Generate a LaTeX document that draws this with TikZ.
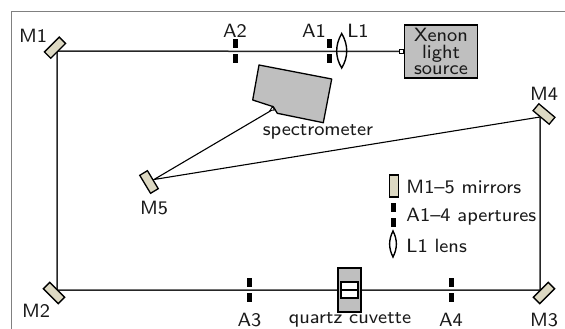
\documentclass[tikz,border=0pt]{standalone}
\renewcommand{\familydefault}{\sfdefault}
\definecolor{mirrorc}{HTML}{DDD9C3}
\definecolor{boxc}{HTML}{BFBFBF}
\tikzset{
  x=1pt,y=-1pt,
  beam/.style={line width=1.5pt,draw=black!85},
  mirror/.style={draw=black,fill=mirrorc,line width=1.3pt,minimum width=21pt,minimum height=9pt,inner sep=0pt,outer sep=0pt},
  grayc/.style={draw=black,fill=boxc,line width=1.3pt},
  bar/.style={fill=black,draw=none,minimum width=5pt,minimum height=9.5pt,inner sep=0pt},
  lbl/.style={font=\fontsize{8}{9}\selectfont,scale=2.4,inner sep=0pt,text=black!90},
}
\newcommand{\aperture}[3]{%
  \node[bar] (#1u) at (#2,#3-7.5) {};
  \node[bar] (#1d) at (#2,#3+7.5) {};}
\begin{document}
\begin{tikzpicture}
\useasboundingbox (0,0) rectangle (565,329);
\draw[line width=0.7pt,black!50] (11.5,329)--(11.5,11.5)--(565,11.5);
% points
\coordinate (c1) at (57,51);
\coordinate (c2) at (57,290);
\coordinate (c3) at (540,290);
\coordinate (c4) at (540,117);
\coordinate (c5) at (154,179.5);
\coordinate (cs) at (272,110);
% source
\node[grayc,minimum width=73pt,minimum height=53pt,inner sep=0pt] (src) at (441,51.5) {};
\node[lbl,align=center,font=\fontsize{8}{6.9}\selectfont] at (src.center) {Xenon\\light\\source};
\node[draw=black,fill=white,line width=0.9pt,minimum size=4pt,inner sep=0pt,anchor=east] (port) at (src.west) {};
% beams
\draw[beam] (port.west) -- (c1) -- (c2) -- (c3) -- (c4);
\draw[line width=1.1pt] (c4) -- (c5) -- (cs);
% spectrometer
\draw[grayc,line join=round] (259,65) -- (331.7,79) -- (323.3,122.7) -- (277.3,113.3) -- (273.3,106.7) -- (252.7,100) -- cycle;
\draw[line width=0.9pt,fill=white] (270,110.5) -- (272.5,106.5) -- (274.5,110) -- cycle;
% mirrors
\node[mirror,rotate=45] (M1) at (55,47.7) {};
\node[mirror,rotate=-45] (M2) at (54,293) {};
\node[mirror,rotate=45] (M3) at (544,293) {};
\node[mirror,rotate=-40] (M4) at (544,114) {};
\node[mirror,rotate=-59] (M5) at (149,182) {};
% apertures
\aperture{A2}{235}{51}
\aperture{A1}{329.7}{51}
\aperture{A3}{249.5}{290}
\aperture{A4}{451}{290}
% lens
\draw[line width=1.4pt] (341.7,33.5) .. controls (335,45) and (335,57) .. (341.7,68) .. controls (348.4,57) and (348.4,45) .. (341.7,33.5) -- cycle;
% cuvette
\node[grayc,minimum width=23pt,minimum height=44pt,inner sep=0pt] (cuv) at (349.5,290) {};
\node[draw=black,fill=white,line width=1.3pt,minimum width=17pt,minimum height=16pt,inner sep=0pt] (cin) at (349.5,290) {};
\draw[line width=1.1pt] (cin.west) -- (cin.east);
% legend
\node[mirror,rotate=90,minimum width=22pt] (lm) at (394,186) {};
\aperture{la}{393.7}{215}
\draw[line width=1.4pt] (393,231) .. controls (388.5,240) and (388.5,248) .. (393,257) .. controls (397.5,248) and (397.5,240) .. (393,231) -- cycle;
% labels
\node[lbl] at (33,36) {M1};
\node[lbl] at (235,31) {A2};
\node[lbl] at (314,31) {A1};
\node[lbl] at (358,31) {L1};
\node[lbl] at (544,94) {M4};
\node[lbl] at (154,208) {M5};
\node[lbl] at (36,311) {M2};
\node[lbl] at (249.5,320) {A3};
\node[lbl] at (350,320) {quartz cuvette};
\node[lbl] at (451,320) {A4};
\node[lbl] at (544,320) {M3};
\node[lbl] at (318,132) {spectrometer};
\node[lbl,anchor=west] at (406,187) {M1--5 mirrors};
\node[lbl,anchor=west] at (406,217) {A1--4 apertures};
\node[lbl,anchor=west] at (406,246) {L1 lens};
\end{tikzpicture}
\end{document}
